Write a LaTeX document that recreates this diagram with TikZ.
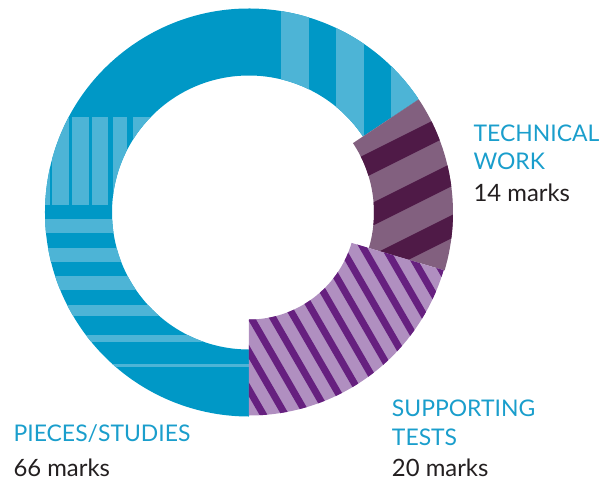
\documentclass[tikz,border=0pt]{standalone}
\usepackage{fontspec}
\setmainfont{Lato}
\usepackage{tikz}

\definecolor{piecedark}{RGB}{0,152,198}
\definecolor{piecelight}{RGB}{77,180,214}
\definecolor{techlight}{RGB}{130,96,127}
\definecolor{techdark}{RGB}{79,26,71}
\definecolor{suplight}{RGB}{176,143,192}
\definecolor{supdark}{RGB}{102,32,127}
\definecolor{labelblue}{RGB}{26,158,204}
\definecolor{marksgrey}{RGB}{35,31,32}

\begin{document}
\begin{tikzpicture}[x=0.75pt, y=0.75pt,
	heading/.style={anchor=base west, inner sep=0pt, text=labelblue, font=\fontsize{17.2}{20}\selectfont},
	marks/.style={anchor=base west, inner sep=0pt, text=marksgrey, font=\fontsize{17.9}{20}\selectfont}]
	\useasboundingbox (-249,-273.5) rectangle (351,212.5);
	% pieces/studies
	\begin{scope}
		\clip (33.7:204) arc[start angle=33.7, end angle=270, radius=204] -- (270:137) arc[start angle=270, end angle=33.7, radius=137] -- cycle;
		\fill[piecedark] (-210,-210) rectangle (210,210);
		\foreach \x in {32,87,142} {
			\fill[piecelight] (\x,0) rectangle (\x+28,210);
		}
		\foreach \a/\b in {-210/-199, -197.3/-180, -177.3/-159.7, -156.7/-141.3, -135.7/-121.7, -115.7/-95} {
			\fill[piecelight] (\a,7.5) rectangle (\b,95.5);
		}
		\foreach \a/\b in {-6.5/-20.5, -35.5/-49.5, -63.5/-77.5, -92.5/-103.5, -122.5/-129.5, -151.5/-154.5} {
			\fill[piecelight] (-210,\a) rectangle (0,\b);
		}
	\end{scope}
	% technical work
	\begin{scope}
		\clip (-16.5:204) arc[start angle=-16.5, end angle=33.7, radius=204] -- (33.7:125) arc[start angle=33.7, end angle=-16.5, radius=125] -- cycle;
		\fill[techlight] (-10,-210) rectangle (210,210);
		\foreach \b in {0,-52,-104} {
			\fill[techdark] (-10,\b-5) -- (220,\b+110) -- (220,\b+87) -- (-10,\b-28) -- cycle;
		}
	\end{scope}
	% supporting tests
	\begin{scope}
		\clip (-90:203) arc[start angle=-90, end angle=-16.5, radius=203] -- (-16.5:107) arc[start angle=-16.5, end angle=-90, radius=107] -- cycle;
		\fill[suplight] (-10,-210) rectangle (210,10);
		\foreach \k [evaluate=\k as \a using -62.7+21.8*\k] in {-3,...,13} {
			\fill[supdark] (\a-5.8,10) -- (\a+2.2,10) -- (\a+132.1,-215) -- (\a+124.1,-215) -- cycle;
		}
	\end{scope}
	% labels
	\node[heading] (tech1) at (224.3,70.8) {TECHNICAL};
	\node[heading] (tech2) at (224.3,43.2) {WORK};
	\node[marks] (techmarks) at (224.3,10.8) {14 marks};
	\node[heading] (sup1) at (142.7,-204.2) {SUPPORTING};
	\node[heading] (sup2) at (142.7,-232.5) {TESTS};
	\node[marks] (supmarks) at (142.7,-264.2) {20 marks};
	\node[heading] (pieces) at (-235.7,-229.2) {PIECES/STUDIES};
	\node[marks] (piecemarks) at (-235.7,-264.2) {66 marks};
\end{tikzpicture}
\end{document}
